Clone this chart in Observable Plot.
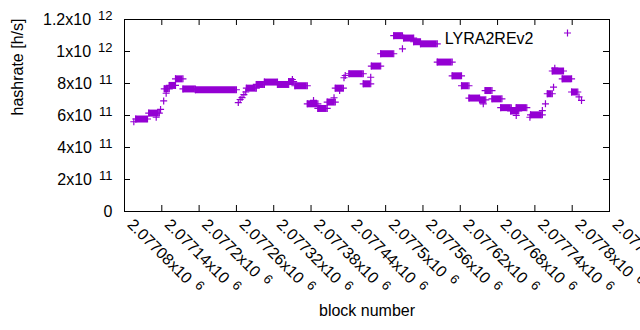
<!DOCTYPE html>
<html><head><meta charset="utf-8">
<script src="https://cdn.jsdelivr.net/npm/d3@7"></script>
<script src="https://cdn.jsdelivr.net/npm/@observablehq/plot@0.6"></script>
<style>body{margin:0;background:#fff;} svg{display:block;}</style>
</head><body><div id="chart"></div>
<script>
// runs of consecutive blocks with the same hashrate (start block, end block, h/s)
const blockStart = [2077095,2077098,2077119,2077131,2077138,2077143,2077144,2077147,2077152,2077162,2077174,2077194,2077263,2077266,2077269,2077272,2077275,2077276,2077292,2077305,2077326,2077344,2077350,2077354,2077374,2077384,2077391,2077406,2077417,2077419,2077426,2077433,2077435,2077441,2077464,2077476,2077477,2077492,2077513,2077527,2077529,2077545,2077556,2077583,2077607,2077622,2077634,2077651,2077657,2077660,2077671,2077685,2077701,2077710,2077710,2077732,2077733,2077752,2077757,2077760,2077770,2077768,2077772,2077784,2077799,2077811,2077815];
const blockEnd   = [2077095,2077117,2077136,2077131,2077138,2077143,2077152,2077147,2077162,2077174,2077194,2077260,2077263,2077266,2077269,2077272,2077275,2077292,2077305,2077326,2077344,2077352,2077350,2077374,2077391,2077384,2077406,2077419,2077417,2077432,2077426,2077433,2077435,2077464,2077476,2077476,2077492,2077513,2077527,2077527,2077545,2077556,2077583,2077607,2077622,2077634,2077651,2077661,2077657,2077671,2077687,2077702,2077714,2077710,2077727,2077732,2077752,2077752,2077757,2077768,2077770,2077786,2077772,2077799,2077809,2077811,2077815];
const hashrate   = [561e9,578e9,615e9,589e9,638e9,691e9,767e9,739e9,788e9,829e9,766e9,761e9,681e9,700e9,712e9,731e9,747e9,771e9,794e9,809e9,794e9,812e9,825e9,786e9,673e9,694e9,644e9,684e9,711e9,771e9,756e9,836e9,850e9,861e9,798e9,839e9,909e9,986e9,1099e9,1017e9,1084e9,1061e9,1048e9,934e9,848e9,786e9,709e9,698e9,673e9,756e9,704e9,649e9,628e9,600e9,649e9,589e9,604e9,631e9,673e9,736e9,777e9,878e9,896e9,829e9,747e9,716e9,694e9];

const xTicks = [2077080,2077140,2077200,2077260,2077320,2077380,2077440,2077500,2077560,2077620,2077680,2077740,2077800,2077860];
const xTickMantissa = ["2.07708","2.07714","2.0772","2.07726","2.07732","2.07738","2.07744","2.0775","2.07756","2.07762","2.07768","2.07774","2.0778","2.07786"];
const xTickExp = ["6","6","6","6","6","6","6","6","6","6","6","6","6","6"];
const yTicks = [0,2e11,4e11,6e11,8e11,1e12,1.2e12];
const yTickMantissa = ["0","2","4","6","8","1","1.2"];
const yTickExp = ["","11","11","11","11","12","12"];
const seriesName = "LYRA2REv2";
const xLabel = "block number";
const yLabel = "hashrate [h/s]";

const color = "#9400d3";
const W = 640, H = 330, mL = 124, mR = 31, mT = 19, mB = 119;
const frameW = W - mL - mR, frameH = H - mT - mB, tickLen = 6;
const font = "Liberation Sans, Arial, sans-serif";
const fs = 16;

const idx = d3.range(hashrate.length);
const bands = idx.filter(i => blockEnd[i] > blockStart[i]);
const pts = [];
idx.forEach(i => {
  pts.push({b: blockStart[i], v: hashrate[i]});
  if (blockEnd[i] !== blockStart[i]) pts.push({b: blockEnd[i], v: hashrate[i]});
});

const svg = Plot.plot({
  width: W, height: H,
  marginLeft: mL, marginRight: mR, marginTop: mT, marginBottom: mB,
  style: {fontFamily: font, fontSize: fs + "px", background: "#fff", color: "#000"},
  x: {domain: [2077080, 2077860], axis: null},
  y: {domain: [0, 1.2e12], axis: null},
  marks: [
    Plot.frame({stroke: "#000", strokeWidth: 1}),
    Plot.ruleX(xTicks, {x: d => d, insetTop: frameH - tickLen, stroke: "#000"}),
    Plot.ruleX(xTicks, {x: d => d, insetBottom: frameH - tickLen, stroke: "#000"}),
    Plot.ruleY(yTicks, {y: d => d, insetRight: frameW - tickLen, stroke: "#000"}),
    Plot.ruleY(yTicks, {y: d => d, insetLeft: frameW - tickLen, stroke: "#000"}),
    Plot.ruleY(bands, {y: i => hashrate[i], x1: i => blockStart[i], x2: i => blockEnd[i], stroke: color, strokeWidth: 7}),
    Plot.dot(pts, {x: "b", y: "v", symbol: "plus", r: 2.4, stroke: color, strokeWidth: 1.2}),
    Plot.text(yTicks, {y: d => d, frameAnchor: "left", textAnchor: "end", dx: -12, fill: "#000", fontSize: fs,
      text: (d, i) => yTickExp[i] ? yTickMantissa[i] + "x10|" + yTickExp[i] : yTickMantissa[i]}),
    Plot.text(xTicks, {x: d => d, frameAnchor: "bottom", textAnchor: "start", rotate: 45, dx: 2, dy: 14, fill: "#000", fontSize: fs,
      text: (d, i) => xTickMantissa[i] + "x10|" + xTickExp[i]}),
    Plot.text([yLabel], {text: d => d, frameAnchor: "left", rotate: -90, dx: -106.5, fill: "#000", fontSize: fs}),
    Plot.text([xLabel], {text: d => d, frameAnchor: "bottom", dy: 104, fill: "#000", fontSize: fs}),
    Plot.text([seriesName], {text: d => d, frameAnchor: "top-right", textAnchor: "end", dx: -76, dy: 13.5, fill: "#000", fontSize: fs}),
    Plot.dot([seriesName], {frameAnchor: "top-right", symbol: "plus", r: 2.4, stroke: color, strokeWidth: 1.2, dx: -42, dy: 13.5})
  ]
});

// superscript exponents in tick labels
d3.select(svg).selectAll("text").each(function () {
  const s = this.textContent;
  if (s.indexOf("|") < 0) return;
  const [a, b] = s.split("|");
  this.textContent = "";
  const t = d3.select(this);
  t.append("tspan").text(a);
  t.append("tspan").attr("dx", 7).attr("dy", -5).attr("font-size", 13).text(b);
});

document.getElementById("chart").appendChild(svg);
</script>
</body></html>
